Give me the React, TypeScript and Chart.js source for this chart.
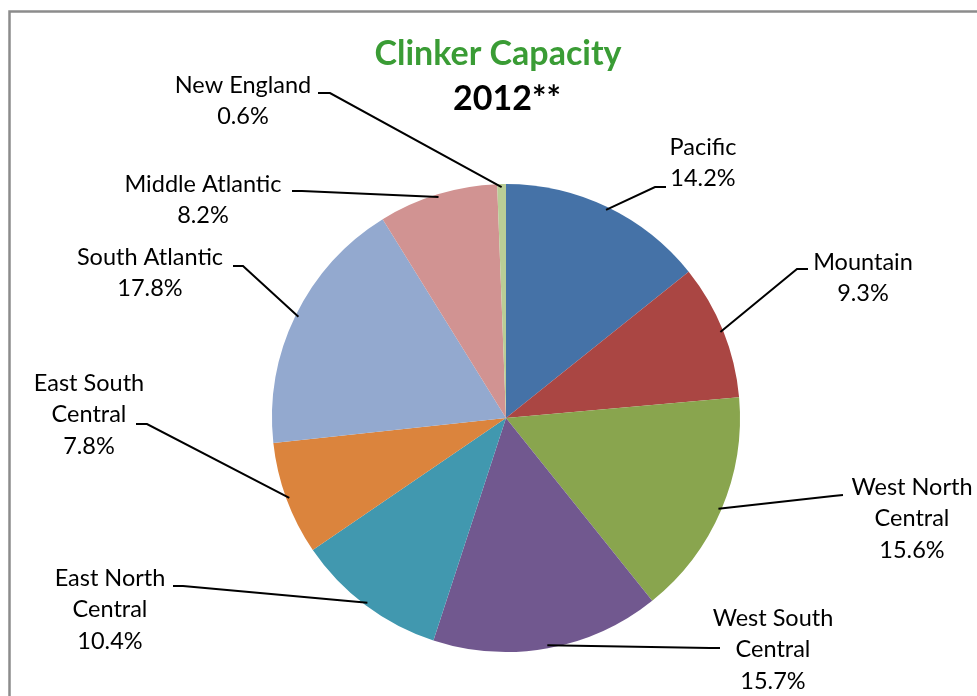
import React, { useEffect, useRef } from "react";
import { Chart, registerables } from "chart.js";

Chart.register(...registerables);

const regions = [
  "Pacific",
  "Mountain",
  "West North Central",
  "West South Central",
  "East North Central",
  "East South Central",
  "South Atlantic",
  "Middle Atlantic",
  "New England",
];
const shares = [14.2, 9.3, 15.6, 15.7, 10.4, 7.8, 17.8, 8.2, 0.6];
const labelLines = [
  ["Pacific"],
  ["Mountain"],
  ["West North", "Central"],
  ["West South", "Central"],
  ["East North", "Central"],
  ["East South", "Central"],
  ["South Atlantic"],
  ["Middle Atlantic"],
  ["New England"],
];
const colors = [
  "#4572A7",
  "#AA4643",
  "#89A54E",
  "#71588F",
  "#4198AF",
  "#DB843D",
  "#93A9CF",
  "#D19392",
  "#B9CD96",
];

// label placement relative to pie centre (px): text centre of first line, elbow, tick end
const labelPlace = [
  { t: [197, -271], e: [149, -231], k: [160, -231] },
  { t: [357, -156], e: [291, -149], k: [302, -149] },
  { t: [406, 69], e: [327, 78], k: [337, 77] },
  { t: [267, 200], e: [204, 230], k: [214, 230] },
  { t: [-396, 160], e: [-323, 168], k: [-333, 168] },
  { t: [-417, -35], e: [-359, 6], k: [-370, 6] },
  { t: [-356, -161], e: [-263, -152], k: [-273, -152] },
  { t: [-303, -234], e: [-204, -227], k: [-214, -227] },
  { t: [-263, -333], e: [-176, -325], k: [-188, -325] },
];

const LABEL_FONT = "23.5px Lato, 'Open Sans', sans-serif";
const LINE_H = 31.5;

const decorPlugin = {
  id: "decor",
  afterDraw(chart: any) {
    const ctx = chart.ctx as CanvasRenderingContext2D;
    const meta = chart.getDatasetMeta(0);
    ctx.save();
    // frame
    ctx.strokeStyle = "#8c8c8c";
    ctx.lineWidth = 2.5;
    ctx.beginPath();
    ctx.moveTo(9.5, 700);
    ctx.lineTo(9.5, 11.5);
    ctx.lineTo(990, 11.5);
    ctx.stroke();

    // title
    ctx.textAlign = "center";
    ctx.textBaseline = "alphabetic";
    ctx.fillStyle = "#3a9c35";
    ctx.font = "bold 34px Lato, 'Open Sans', sans-serif";
    ctx.fillText("Clinker Capacity", 498, 65);
    ctx.fillStyle = "#000000";
    ctx.font = "bold 34px Lato, 'Open Sans', sans-serif";
    ctx.fillText("2012**", 507, 110);

    // labels and leaders
    meta.data.forEach((arc: any, i: number) => {
      const p = arc.getProps(["x", "y", "startAngle", "endAngle", "outerRadius"], true);
      const mid = (p.startAngle + p.endAngle) / 2;
      const r = p.outerRadius - 3;
      const sx = p.x + Math.cos(mid) * r;
      const sy = p.y + Math.sin(mid) * r;
      const pl = labelPlace[i];
      ctx.strokeStyle = "#000000";
      ctx.lineWidth = 2;
      ctx.beginPath();
      ctx.moveTo(sx, sy);
      ctx.lineTo(p.x + pl.e[0], p.y + pl.e[1]);
      ctx.lineTo(p.x + pl.k[0], p.y + pl.k[1]);
      ctx.stroke();

      const lines = [...labelLines[i], shares[i].toFixed(1) + "%"];
      ctx.fillStyle = "#000000";
      ctx.font = LABEL_FONT;
      ctx.textAlign = "center";
      ctx.textBaseline = "middle";
      lines.forEach((ln, j) => {
        ctx.fillText(ln, p.x + pl.t[0], p.y + pl.t[1] + j * LINE_H);
      });
    });
    ctx.restore();
  },
};

export default function App() {
  const ref = useRef<HTMLCanvasElement | null>(null);
  useEffect(() => {
    if (!ref.current) return;
    const chart = new Chart(ref.current, {
      type: "pie",
      data: {
        labels: regions,
        datasets: [
          {
            data: shares,
            backgroundColor: colors,
            borderWidth: 0,
          },
        ],
      },
      options: {
        responsive: false,
        maintainAspectRatio: false,
        animation: false,
        devicePixelRatio: 1,
        layout: { padding: { left: 272, right: 237, top: 184, bottom: 44 } },
        plugins: {
          legend: { display: false },
          tooltip: { enabled: false },
          title: { display: false },
        },
      },
      plugins: [decorPlugin],
    });
    return () => chart.destroy();
  }, []);
  return (
    <div style={{ position: "fixed", left: 0, top: 0, width: 977, height: 696, background: "#ffffff" }}>
      <canvas ref={ref} width={977} height={696} style={{ display: "block", width: 977, height: 696 }} />
    </div>
  );
}
